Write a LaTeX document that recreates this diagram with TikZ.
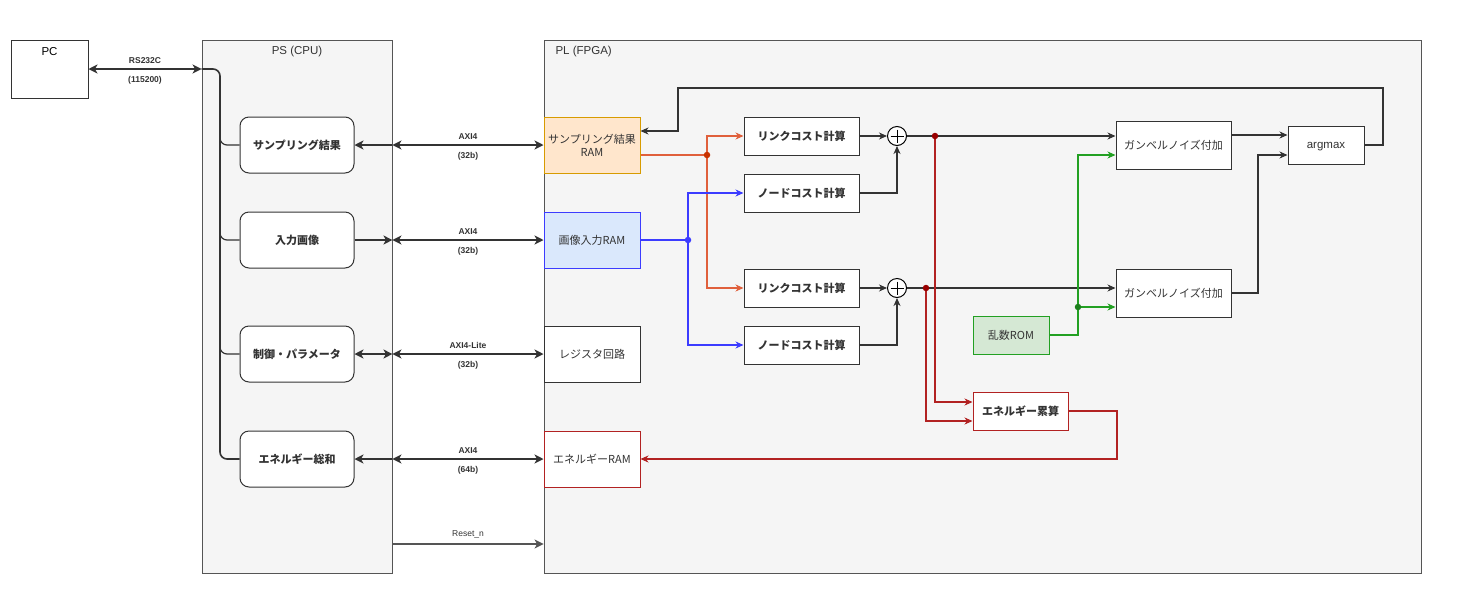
\documentclass[tikz,border=0pt]{standalone}
\usepackage{fontspec}
\setmainfont{Liberation Sans}
\newfontfamily\jp{Noto Sans CJK JP}
\usetikzlibrary{arrows.meta}

\definecolor{edge}{HTML}{333333}
\definecolor{frame}{HTML}{555555}
\definecolor{panel}{HTML}{F5F5F5}
\definecolor{linkred}{HTML}{E0603C}
\definecolor{linkdot}{HTML}{C83200}
\definecolor{nodeblue}{HTML}{3C3CFF}
\definecolor{sumred}{HTML}{B22222}
\definecolor{sumdot}{HTML}{990000}
\definecolor{randgreen}{HTML}{22A022}
\definecolor{samfill}{HTML}{FFE6CC}
\definecolor{samline}{HTML}{D79B00}
\definecolor{imgfill}{HTML}{DAE8FC}
\definecolor{romfill}{HTML}{D5E8D4}

\tikzset{
  big/.tip={Stealth[length=9pt,width=9pt,inset=2.5pt]},
  small/.tip={Stealth[length=8pt,width=7pt,inset=2.5pt]},
  panelbox/.style={draw=frame,fill=panel,line width=0.9pt,inner sep=0pt,minimum height=533pt},
  cpubox/.style={draw=edge,fill=white,rounded corners=9pt,line width=1pt,minimum width=114pt,
    minimum height=56pt,font=\jp\bfseries\fontsize{11}{12}\selectfont,text=edge},
  rambox/.style={draw=edge,fill=white,line width=1pt,minimum width=96pt,minimum height=56pt,
    inner sep=1pt,align=center,font=\jp\fontsize{11}{13}\selectfont,text=edge},
  calcbox/.style={draw=edge,fill=white,line width=1pt,minimum width=115pt,minimum height=38pt,
    font=\jp\bfseries\fontsize{11}{12}\selectfont,text=edge},
  adder/.style={circle,draw=black,fill=white,line width=1pt,minimum size=19pt,inner sep=0pt},
  axi/.style={draw=edge,line width=1.5pt},
  flow/.style={draw=edge,line width=1.1pt},
  buslabel/.style={font=\bfseries\fontsize{8.5}{10}\selectfont,text=edge,inner sep=0pt},
  dot/.style={circle,inner sep=0pt,minimum size=6.5pt}
}

\begin{document}
\begin{tikzpicture}[x=1pt,y=-1pt]
    \useasboundingbox[fill=white] (0,0) rectangle (1460,614);

    \node[draw=edge,fill=white,line width=1pt,minimum width=77pt,minimum height=58pt] (pc) at (49.5,69) {};
    \node[font=\fontsize{11.5}{12}\selectfont] (pclab) at (49.5,52) {PC};

    \node[panelbox,minimum width=190pt] (ps) at (297,306.5) {};
    \node[panelbox,minimum width=877pt] (pl) at (982.5,306.5) {};
    \node[font=\fontsize{11.5}{12}\selectfont,text=edge] (pslab) at (297,52) {PS (CPU)};
    \node[font=\fontsize{11.5}{12}\selectfont,text=edge,anchor=west] (pllab) at (552,52) {PL (FPGA)};

    \node[cpubox] (sam) at (297,145) {サンプリング結果};
    \node[cpubox] (img) at (297,240) {入力画像};
    \node[cpubox] (ctl) at (297,354) {制御・パラメータ};
    \node[cpubox] (nrg) at (297,459) {エネルギー総和};

    \node[rambox,fill=samfill,draw=samline] (samram) at (592,145) {サンプリング結果\\RAM};
    \node[rambox,fill=imgfill,draw=nodeblue] (imgram) at (592,240) {画像入力RAM};
    \node[rambox] (reg) at (592,354) {レジスタ回路};
    \node[rambox,draw=sumred] (nrgram) at (592,459) {エネルギーRAM};

    \node[calcbox] (link1) at (801.5,136) {リンクコスト計算};
    \node[calcbox] (node1) at (801.5,193) {ノードコスト計算};
    \node[calcbox] (link2) at (801.5,288) {リンクコスト計算};
    \node[calcbox] (node2) at (801.5,345) {ノードコスト計算};
    \node[adder] (add1) at (897,136) {};
    \node[adder] (add2) at (897,288) {};
    \foreach \a in {add1,add2}
        \draw[line width=1pt] (\a.center) ++(-6.5,0) -- ++(13,0) (\a.center) ++(0,-6.5) -- ++(0,13);

    \node[calcbox,minimum height=48pt,font=\jp\fontsize{11}{12}\selectfont] (gum1) at (1173.5,145) {ガンベルノイズ付加};
    \node[calcbox,minimum height=48pt,font=\jp\fontsize{11}{12}\selectfont] (gum2) at (1173.5,293) {ガンベルノイズ付加};
    \node[calcbox,minimum width=76pt,font=\fontsize{11.5}{12}\selectfont,text height=6pt,text depth=0pt] (argmax) at (1326,145) {argmax};
    \node[calcbox,minimum width=76pt,fill=romfill,draw=randgreen,font=\jp\fontsize{11}{12}\selectfont] (rom) at (1011,335) {乱数ROM};
    \node[calcbox,minimum width=95pt,draw=sumred] (acc) at (1020.5,411) {エネルギー累算};

    % PC <-> PS
    \draw[axi,big-big] (pc.east) -- (pc.east -| ps.west)
        node[buslabel,midway,above=5pt] {RS232C} node[buslabel,midway,below=7pt] {(115200)};
    \draw[flow,line width=1.6pt,rounded corners=7pt] (pc.east -| ps.west) -- (220,69) -- (220,459) -- (nrg.west);
    \foreach \b in {sam,img,ctl}
        \draw[flow,line width=1.2pt,rounded corners=7pt] (220,100) |- (\b.west);

    % PS <-> PL
    \draw[axi,-big] (sam.east -| ps.east) -- (sam.east);
    \draw[axi,-big] (img.east) -- (img.east -| ps.east);
    \draw[axi,big-big] (ctl.east) -- (ctl.east -| ps.east);
    \draw[axi,-big] (nrg.east -| ps.east) -- (nrg.east);
    \draw[axi,big-big] (sam.east -| ps.east) -- (samram.west)
        node[buslabel,midway,above=5pt] {AXI4} node[buslabel,midway,below=7pt] {(32b)};
    \draw[axi,big-big] (img.east -| ps.east) -- (imgram.west)
        node[buslabel,midway,above=5pt] {AXI4} node[buslabel,midway,below=7pt] {(32b)};
    \draw[axi,big-big] (ctl.east -| ps.east) -- (reg.west)
        node[buslabel,midway,above=5pt] {AXI4-Lite} node[buslabel,midway,below=7pt] {(32b)};
    \draw[axi,big-big] (nrg.east -| ps.east) -- (nrgram.west)
        node[buslabel,midway,above=5pt] {AXI4} node[buslabel,midway,below=7pt] {(64b)};
    \coordinate (rst) at (ps.east |- 0,544);
    \draw[flow,draw=frame,-big] (rst) -- (rst -| pl.west)
        node[buslabel,font=\fontsize{8.5}{10}\selectfont,midway,above=5pt] {Reset\_n};

    % link / node cost
    \coordinate (ld) at (707,155);
    \draw[flow,draw=linkred] ([yshift=-10pt]samram.east) -- (ld);
    \draw[flow,draw=linkred,-small] (ld) |- (link1.west);
    \draw[flow,draw=linkred,-small] (ld) |- (link2.west);
    \coordinate (nd) at (688,240);
    \draw[flow,draw=nodeblue] (imgram.east) -- (nd);
    \draw[flow,draw=nodeblue,-small] (nd) |- (node1.west);
    \draw[flow,draw=nodeblue,-small] (nd) |- (node2.west);
    \node[dot,fill=linkdot] (ldot) at (ld) {};
    \node[dot,fill=nodeblue] (ndot) at (nd) {};

    \draw[flow,-small] (link1) -- (add1);
    \draw[flow,-small] (link2) -- (add2);
    \draw[flow,-small] (node1.east) -| (add1.south);
    \draw[flow,-small] (node2.east) -| (add2.south);
    \draw[flow,-small] (add1.east) -- (add1.east -| gum1.west);
    \draw[flow,-small] (add2.east) -- (add2.east -| gum2.west);

    % energy
    \coordinate (s1) at (add1 -| 935,0);
    \coordinate (s2) at (add2 -| 926,0);
    \draw[flow,draw=sumred,-small] (s1) |- ([yshift=9pt]acc.west);
    \draw[flow,draw=sumred,-small] (s2) |- ([yshift=-10pt]acc.west);
    \draw[flow,draw=sumred,-small] (acc.east) -| (1117,459) -- (nrgram.east);
    \node[dot,fill=sumdot] (s1dot) at (s1) {};
    \node[dot,fill=sumdot] (s2dot) at (s2) {};

    % gumbel noise
    \coordinate (g) at (1078,307);
    \draw[flow,draw=randgreen] (rom.east) -| (g);
    \draw[flow,draw=randgreen,-small] (g) -- ([yshift=-14pt]gum2.west);
    \draw[flow,draw=randgreen,-small] (g) |- ([yshift=-10pt]gum1.west);
    \node[dot,fill=randgreen!80!black] (gdot) at (g) {};

    \draw[flow,-small] ([yshift=10pt]gum1.east) -- ([yshift=10pt]argmax.west);
    \draw[flow,-small] (gum2.east) -| (1258,155) -- ([yshift=-10pt]argmax.west);
    \draw[flow,-small] (argmax.east) -| (1383,88) -| (678,131) -- ([yshift=14pt]samram.east);
\end{tikzpicture}
\end{document}
